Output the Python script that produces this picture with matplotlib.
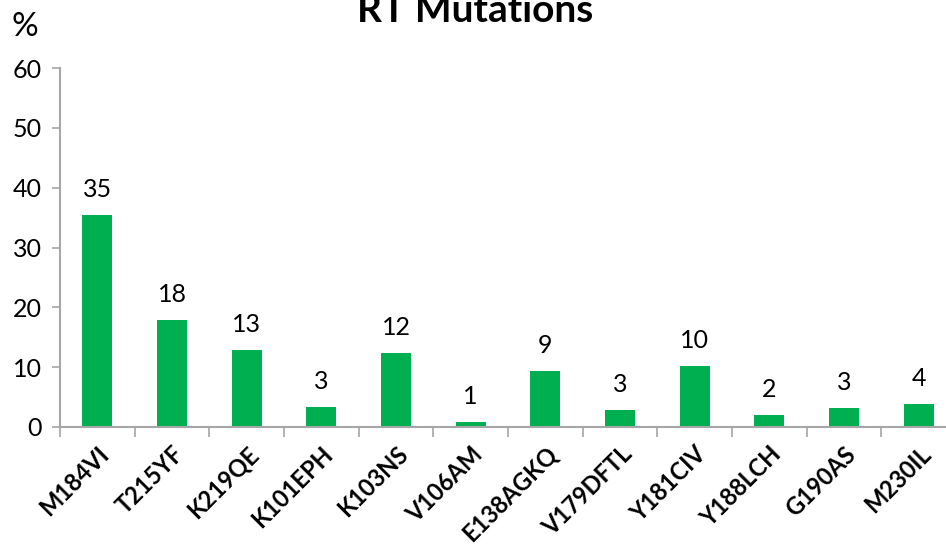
import matplotlib
matplotlib.use("Agg")
import matplotlib.pyplot as plt

plt.rcParams['font.family'] = ['Lato', 'DejaVu Sans']

mutations = ['M184VI', 'T215YF', 'K219QE', 'K101EPH', 'K103NS', 'V106AM',
             'E138AGKQ', 'V179DFTL', 'Y181CIV', 'Y188LCH', 'G190AS', 'M230IL']
percent = [35.4, 17.9, 12.9, 3.4, 12.4, 0.8, 9.4, 2.8, 10.2, 2.0, 3.1, 3.9]

W, H = 946, 545
fig = plt.figure(figsize=(W / 100, H / 100), dpi=100)
ax = fig.add_axes([60 / W, 118 / H, 896 / W, 359 / H])

x = list(range(len(mutations)))
ax.bar(x, percent, width=0.4, color='#00B050', zorder=2)

for xi, v in zip(x, percent):
    ax.annotate(f'{v:.0f}', (xi, v), xytext=(0, 13), textcoords='offset points',
                ha='center', va='baseline', fontsize=18, color='black')

ax.set_xlim(-0.5, len(mutations) - 0.5)
ax.set_ylim(0, 60)
ax.set_yticks(range(0, 61, 10))

# category ticks sit on the boundaries between bars
ax.set_xticks([i - 0.5 for i in range(len(mutations) + 1)])
ax.set_xticklabels([])
ax.set_xticks(x, minor=True)
ax.set_xticklabels(mutations, minor=True, rotation=45, ha='right',
                   rotation_mode='anchor', fontsize=17, fontweight='bold')
ax.tick_params(axis='x', which='minor', length=0, pad=11)
ax.tick_params(axis='x', which='major', length=7, width=1.2, color='#A6A6A6')
ax.tick_params(axis='y', length=6, width=1.2, color='#A6A6A6', labelsize=18, pad=7)

for side in ('top', 'right'):
    ax.spines[side].set_visible(False)
for side in ('left', 'bottom'):
    ax.spines[side].set_color('#A6A6A6')
    ax.spines[side].set_linewidth(1.5)

fig.text(0.502, 1 - 22 / H, 'RT Mutations', ha='center', va='baseline',
         fontsize=28, fontweight='bold')
fig.text(11 / W, 1 - 36 / H, '%', ha='left', va='baseline', fontsize=24)

fig.savefig('out.png', dpi=100)
